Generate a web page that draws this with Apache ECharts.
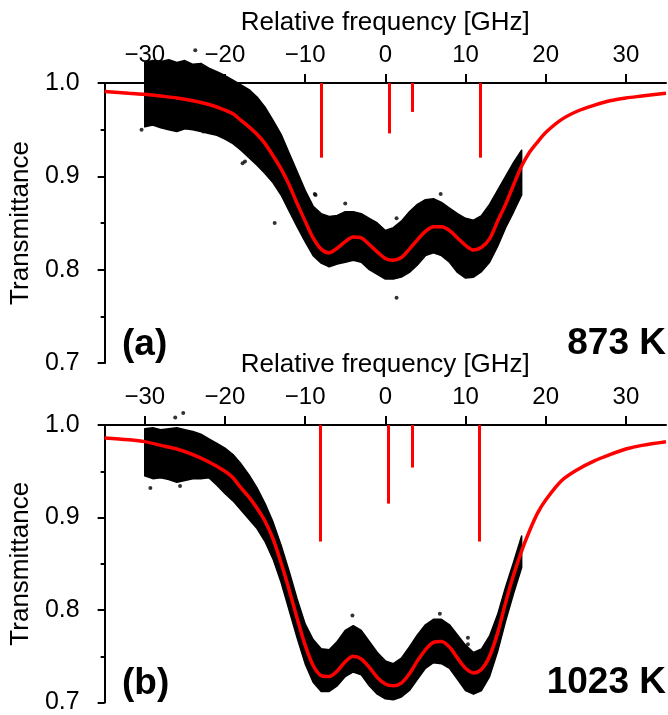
<!DOCTYPE html>
<html>
<head>
<meta charset="utf-8">
<script src="https://cdn.jsdelivr.net/npm/echarts@6/dist/echarts.min.js"></script>
<style>
html,body{margin:0;padding:0;background:#fff;}
#chart{width:668px;height:715px;}
</style>
</head>
<body>
<div id="chart"></div>
<script>
// ---- data ----
const xTicks = [-30, -20, -10, 0, 10, 20, 30];
const yTicks = [0.7, 0.8, 0.9, 1.0];

// fitted curves (red)
const fitX = [-35,-32,-30,-28,-26,-24,-22,-20,
  -19,-18,-17,-16,-15,-14,-13,-12,-11,-10,-9,-8,-7,-6,-5,-4,-3,-2,-1,0,1,2,3,4,5,6,7,8,9,10,11,12,13,14,15,16,17,18,19,
  20,22,24,26,28,30,32,35];
const fitA = [0.991,0.989,0.988,0.986,0.984,0.981,0.977,0.971,
  0.967,0.960,0.953,0.945,0.935,0.922,0.908,0.891,0.871,0.852,0.834,0.822,0.818,0.823,0.830,0.835,0.834,0.827,0.819,0.812,0.810,0.813,0.822,0.832,0.841,0.846,0.846,0.842,0.834,0.826,0.821,0.824,0.833,0.852,0.870,0.891,0.911,0.926,0.937,
  0.947,0.961,0.970,0.976,0.981,0.984,0.986,0.989];
const fitB = [0.986,0.984,0.982,0.978,0.974,0.968,0.960,0.950,
  0.943,0.932,0.922,0.910,0.896,0.877,0.851,0.822,0.791,0.762,0.740,0.729,0.728,0.734,0.744,0.750,0.747,0.738,0.727,0.720,0.718,0.721,0.731,0.745,0.757,0.765,0.766,0.760,0.748,0.737,0.732,0.736,0.750,0.775,0.808,0.838,0.864,0.886,0.905,
  0.919,0.940,0.952,0.961,0.968,0.974,0.978,0.982];

// measured data: envelope of the scattered points
const bandX = [-30,-29,-28,-27,-26,-25,-24,-23,-22,-21,-20,-19,-18,-17,-16,-15,-14,-13,-12,-11,-10,-9,-8,-7,-6,-5,-4,-3,-2,-1,0,1,2,3,4,5,6,7,8,9,10,11,12,13,14,15,16,17];
const lowA = [0.953,0.955,0.952,0.950,0.948,0.951,0.950,0.948,0.946,0.944,0.940,0.935,0.928,0.920,0.912,0.903,0.893,0.880,0.863,0.846,0.830,0.815,0.807,0.803,0.806,0.808,0.810,0.808,0.800,0.795,0.790,0.790,0.792,0.797,0.805,0.815,0.818,0.815,0.808,0.797,0.791,0.792,0.798,0.808,0.825,0.845,0.862,0.880];
const upA  = [1.022,1.024,1.023,1.025,1.022,1.024,1.020,1.021,1.016,1.012,1.008,1.003,0.998,0.993,0.985,0.974,0.960,0.945,0.925,0.905,0.885,0.868,0.860,0.857,0.858,0.862,0.862,0.860,0.855,0.850,0.842,0.845,0.852,0.862,0.870,0.875,0.876,0.872,0.866,0.860,0.855,0.853,0.858,0.870,0.885,0.900,0.915,0.928];
const lowB = [0.945,0.942,0.943,0.941,0.938,0.940,0.942,0.942,0.943,0.935,0.926,0.918,0.908,0.898,0.888,0.874,0.855,0.830,0.800,0.770,0.742,0.722,0.712,0.712,0.718,0.728,0.733,0.730,0.718,0.709,0.704,0.703,0.706,0.713,0.725,0.737,0.743,0.742,0.737,0.725,0.713,0.709,0.713,0.728,0.755,0.788,0.818,0.846];
const upB  = [0.996,0.997,0.995,0.996,0.997,0.995,0.993,0.990,0.985,0.980,0.975,0.968,0.958,0.946,0.932,0.915,0.895,0.870,0.842,0.812,0.785,0.768,0.758,0.757,0.766,0.778,0.783,0.778,0.766,0.754,0.745,0.742,0.748,0.760,0.773,0.784,0.790,0.790,0.784,0.773,0.762,0.754,0.758,0.772,0.795,0.825,0.852,0.880];

// isolated points outside the envelope
const outX_A = [-23.7,-30.4,-22.7,-17.8,-17.5,-13.8,-8.8,-8.7,-5.0,1.4,1.4,6.9];
const outY_A = [1.035,0.950,0.948,0.914,0.916,0.850,0.881,0.880,0.871,0.770,0.855,0.881];
const outX_B = [-25.2,-26.2,-29.3,-25.6,-4.1,6.8,10.3,10.3];
const outY_B = [1.013,1.008,0.932,0.934,0.794,0.796,0.770,0.763];

// line spectrum (sticks hanging from 1.0)
const stickTop = 1.0;
const stickX_A = [-7.95, 0.47, 3.41, 11.87];
const stickEnd_A = [0.920, 0.946, 0.969, 0.920];
const stickX_B = [-8.08, 0.31, 3.32, 11.75];
const stickEnd_B = [0.874, 0.915, 0.954, 0.874];

const xName = 'Relative frequency [GHz]';
const yName = 'Transmittance';
const panelLabels = ['(a)', '(b)'];
const tempLabels = ['873 K', '1023 K'];

// ---- build chart ----
const FONT = 'Liberation Sans, Arial, Helvetica, sans-serif';
const pair = (xs, ys) => xs.map((x, i) => [x, ys[i]]);

function xAxisCfg(gi) {
  return {
    gridIndex: gi, type: 'value', position: 'top', min: -35, max: 35, interval: 10,
    name: xName, nameLocation: 'middle', nameGap: 47,
    nameTextStyle: {fontFamily: FONT, fontSize: 26, color: '#000'},
    axisLine: {show: true, onZero: false, lineStyle: {color: '#000', width: 2}},
    axisTick: {show: true, inside: false, length: 9, lineStyle: {color: '#000', width: 2},
      customValues: xTicks},
    axisLabel: {show: true, margin: 16, fontFamily: FONT, fontSize: 24, color: '#000',
      customValues: xTicks,
      formatter: v => (v < 0 ? '\u2212' + Math.abs(v) : String(v))},
    splitLine: {show: false}
  };
}
function yAxisCfg(gi) {
  return {
    gridIndex: gi, type: 'value', min: 0.7, max: 1.0, interval: 0.1,
    name: yName, nameLocation: 'middle', nameGap: 70, nameRotate: 90,
    nameTextStyle: {fontFamily: FONT, fontSize: 26, color: '#000'},
    axisLine: {show: true, onZero: false, lineStyle: {color: '#000', width: 2}},
    axisTick: {show: true, inside: false, length: 7, lineStyle: {color: '#000', width: 2}},
    minorTick: {show: true, splitNumber: 2, length: 4, lineStyle: {color: '#000', width: 2}},
    axisLabel: {margin: 25, fontFamily: FONT, fontSize: 25, color: '#000',
      formatter: v => v.toFixed(1)},
    splitLine: {show: false}, minorSplitLine: {show: false}
  };
}

function panelSeries(gi, low, up, fit, outX, outY, sx, se) {
  return [
    {type: 'custom', xAxisIndex: gi, yAxisIndex: gi, clip: false, silent: true, z: 2,
     data: [[bandX[0], low[0]]],
     renderItem: (params, api) => {
       const pts = [];
       for (let i = 0; i < bandX.length; i++) pts.push(api.coord([bandX[i], up[i]]));
       for (let i = bandX.length - 1; i >= 0; i--) pts.push(api.coord([bandX[i], low[i]]));
       return {type: 'polygon', shape: {points: pts},
               style: {fill: '#000', stroke: '#000', lineWidth: 1.5, lineJoin: 'round'}};
     }},
    {type: 'scatter', xAxisIndex: gi, yAxisIndex: gi, data: pair(outX, outY), clip: false,
     symbolSize: 4, itemStyle: {color: '#000'}, silent: true, z: 3},
    {type: 'line', xAxisIndex: gi, yAxisIndex: gi, data: pair(fitX, fit),
     symbol: 'none', smooth: 0.3, lineStyle: {color: '#ff0000', width: 3.5}, silent: true, z: 5,
     markLine: {silent: true, symbol: ['none', 'none'], label: {show: false},
       lineStyle: {color: '#ff0000', width: 3, type: 'solid'},
       data: sx.map((x, i) => [{coord: [x, stickTop]}, {coord: [x, se[i]]}])}}
  ];
}

const chart = echarts.init(document.getElementById('chart'), null, {renderer: 'canvas'});
chart.setOption({
  animation: false,
  backgroundColor: '#fff',
  grid: [
    {left: 101, top: 83, width: 565, height: 280},
    {left: 101, top: 425, width: 565, height: 280}
  ],
  xAxis: [xAxisCfg(0), xAxisCfg(1)],
  yAxis: [yAxisCfg(0), yAxisCfg(1)],
  series: [].concat(
    panelSeries(0, lowA, upA, fitA, outX_A, outY_A, stickX_A, stickEnd_A),
    panelSeries(1, lowB, upB, fitB, outX_B, outY_B, stickX_B, stickEnd_B)
  ),
  graphic: [
    {type: 'text', left: 122, top: 326, style: {text: panelLabels[0], fontFamily: FONT, fontSize: 37, fontWeight: 'bold', fill: '#000'}},
    {type: 'text', right: 2, top: 325, style: {text: tempLabels[0], fontFamily: FONT, fontSize: 37, fontWeight: 'bold', fill: '#000'}},
    {type: 'text', left: 122, top: 665, style: {text: panelLabels[1], fontFamily: FONT, fontSize: 37, fontWeight: 'bold', fill: '#000'}},
    {type: 'text', right: 2, top: 664, style: {text: tempLabels[1], fontFamily: FONT, fontSize: 37, fontWeight: 'bold', fill: '#000'}}
  ]
});
</script>
</body>
</html>
